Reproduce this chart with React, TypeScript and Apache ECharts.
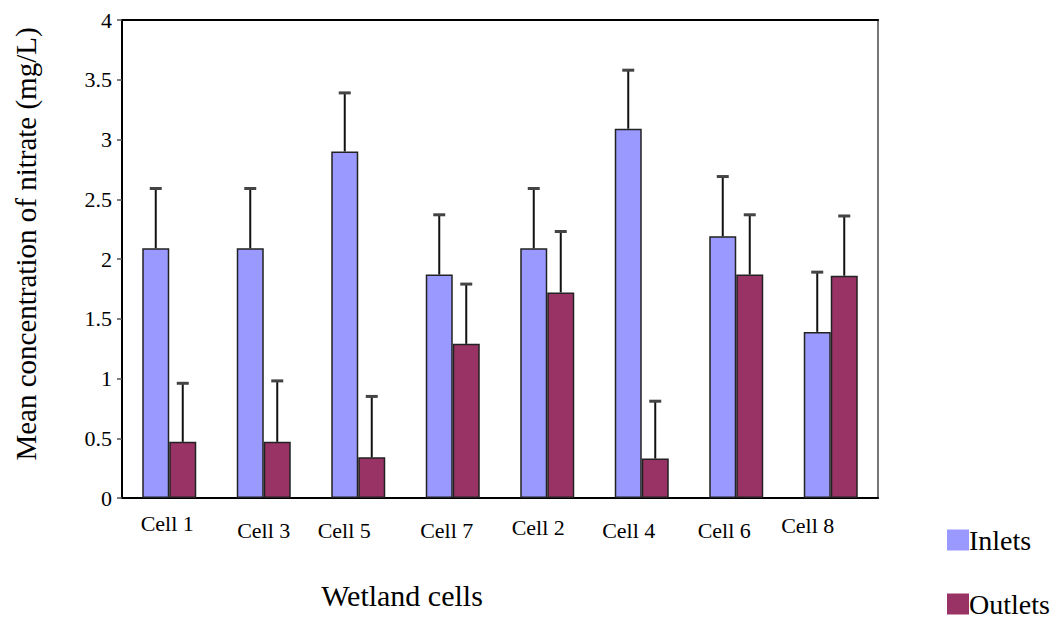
import React, { useEffect, useRef } from "react";
import * as echarts from "echarts";

const categories = ["Cell 1", "Cell 3", "Cell 5", "Cell 7", "Cell 2", "Cell 4", "Cell 6", "Cell 8"];
const inlets = [2.09, 2.09, 2.9, 1.87, 2.09, 3.09, 2.19, 1.39];
const outlets = [0.47, 0.47, 0.34, 1.29, 1.72, 0.33, 1.87, 1.86];
const inletErr = [0.5, 0.5, 0.49, 0.5, 0.5, 0.49, 0.5, 0.5];
const outletErr = [0.49, 0.51, 0.51, 0.5, 0.51, 0.48, 0.5, 0.5];
const seriesNames = ["Inlets", "Outlets"];
const yMin = 0;
const yMax = 4;
const yStep = 0.5;

// label nudges (layout only)
const labelShiftX = [-2, 0, -14, -6, -9, -13, -12, -23];
const labelShiftY = [6, 13, 13, 13, 10, 13, 13, 8];

const FONT = "'Liberation Serif', 'Times New Roman', serif";
const INLET_COLOR = "#9999ff";
const OUTLET_COLOR = "#993366";
const BAR_W = 27;

export default function App() {
  const ref = useRef<HTMLDivElement>(null);

  useEffect(() => {
    if (!ref.current) return;
    const chart = echarts.init(ref.current, null, { renderer: "svg" });

    const catData = categories.map((c, i) => ({
      value: c,
      textStyle: {
        padding: [
          labelShiftY[i],
          labelShiftX[i] < 0 ? -2 * labelShiftX[i] : 0,
          0,
          labelShiftX[i] > 0 ? 2 * labelShiftX[i] : 0,
        ],
      },
    }));

    const errData: number[][] = [];
    categories.forEach((_, i) => {
      errData.push([i, inlets[i], inlets[i] + inletErr[i], -1]);
      errData.push([i, outlets[i], outlets[i] + outletErr[i], 1]);
    });

    const legendBase = {
      orient: "vertical",
      left: 947,
      padding: 0,
      itemWidth: 22,
      itemHeight: 21,
      icon: "rect",
      itemStyle: { borderWidth: 0 },
      textStyle: { fontFamily: FONT, fontSize: 28, lineHeight: 24, color: "#000", padding: [0, 0, 0, -5] },
    };

    const option: any = {
      animation: false,
      backgroundColor: "#ffffff",
      textStyle: { fontFamily: FONT },
      grid: { left: 122, right: 184, top: 20, bottom: 123, containLabel: false },
      legend: [
        { ...legendBase, data: [seriesNames[0]], top: 526 },
        { ...legendBase, data: [seriesNames[1]], top: 590 },
      ],
      xAxis: [
        {
          type: "category",
          data: catData,
          position: "bottom",
          axisLine: { show: true, lineStyle: { color: "#000", width: 2 } },
          axisTick: { show: false },
          axisLabel: { fontFamily: FONT, fontSize: 22, color: "#000", margin: 8, interval: 0 },
          name: "Wetland cells",
          nameLocation: "middle",
          nameGap: 82,
          nameTextStyle: { fontFamily: FONT, fontSize: 30, color: "#000", padding: [0, 196, 0, 0] },
          splitLine: { show: false },
        },
        {
          type: "category",
          data: categories,
          position: "top",
          axisLine: { show: true, onZero: false, lineStyle: { color: "#000", width: 2 } },
          axisTick: { show: false },
          axisLabel: { show: false },
        },
      ],
      yAxis: [
        {
          type: "value",
          min: yMin,
          max: yMax,
          interval: yStep,
          axisLine: { show: true, lineStyle: { color: "#000", width: 2 } },
          axisTick: { show: true, length: 5, lineStyle: { color: "#555", width: 1.5 } },
          axisLabel: { fontFamily: FONT, fontSize: 22, color: "#000", margin: 10 },
          splitLine: { show: false },
          name: "Mean concentration of nitrate (mg/L)",
          nameLocation: "middle",
          nameRotate: 90,
          nameGap: 82,
          nameTextStyle: { fontFamily: FONT, fontSize: 29, color: "#000", padding: [0, 0, 0, 30] },
        },
        {
          type: "value",
          min: yMin,
          max: yMax,
          interval: yStep,
          position: "right",
          axisLine: { show: true, onZero: false, lineStyle: { color: "#777", width: 2 } },
          axisTick: { show: false },
          axisLabel: { show: false },
          splitLine: { show: false },
        },
      ],
      series: [
        {
          name: seriesNames[0],
          type: "bar",
          data: inlets,
          barWidth: BAR_W,
          barGap: "0%",
          itemStyle: { color: INLET_COLOR, borderColor: "#222", borderWidth: 1.5 },
        },
        {
          name: seriesNames[1],
          type: "bar",
          data: outlets,
          barWidth: BAR_W,
          barGap: "0%",
          itemStyle: { color: OUTLET_COLOR, borderColor: "#222", borderWidth: 1.5 },
        },
        {
          type: "custom",
          name: "err",
          data: errData,
          z: 10,
          renderItem: (params: any, api: any) => {
            const c = api.value(0);
            const lo = api.coord([c, api.value(1)]);
            const hi = api.coord([c, api.value(2)]);
            const side = api.value(3);
            const x = lo[0] + side * (BAR_W / 2);
            const capHalf = 6;
            return {
              type: "group",
              children: [
                {
                  type: "line",
                  shape: { x1: x, y1: lo[1], x2: x, y2: hi[1] },
                  style: { stroke: "#111", lineWidth: 2 },
                },
                {
                  type: "line",
                  shape: { x1: x - capHalf, y1: hi[1], x2: x + capHalf, y2: hi[1] },
                  style: { stroke: "#444", lineWidth: 3 },
                },
              ],
            };
          },
        },
      ],
    };

    chart.setOption(option);
    return () => chart.dispose();
  }, []);

  return (
    <div
      ref={ref}
      style={{ position: "fixed", left: 0, top: 0, width: 1062, height: 621, background: "#fff" }}
    />
  );
}
